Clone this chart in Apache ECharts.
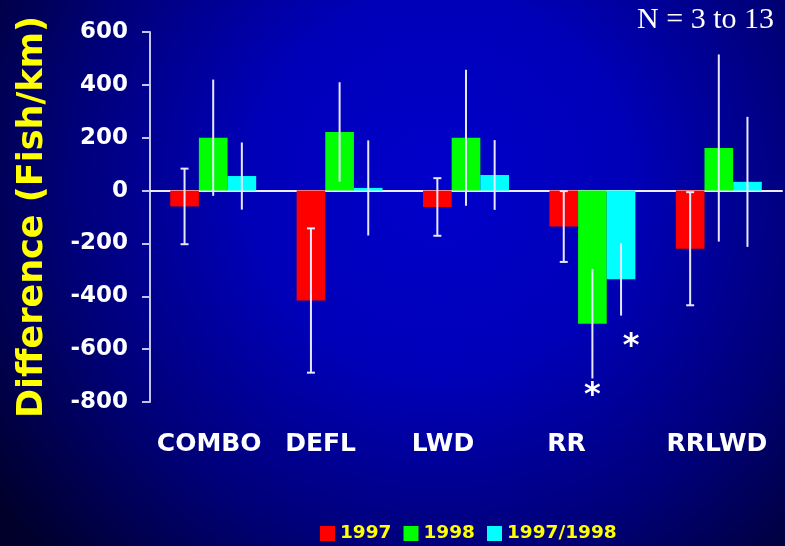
<!DOCTYPE html>
<html>
<head>
<meta charset="utf-8">
<script src="https://cdn.jsdelivr.net/npm/echarts@6/dist/echarts.min.js"></script>
<style>
  html, body { margin: 0; padding: 0; }
  #chart { width: 785px; height: 546px; }
</style>
</head>
<body>
<div id="chart"></div>
<script>
const categories = ["COMBO", "DEFL", "LWD", "RR", "RRLWD"];
const yTicks = [-800, -600, -400, -200, 0, 200, 400, 600];

// mean differences (Fish/km)
const mean1997 = [-60, -416, -62, -136, -220];
const mean1998 = [200, 222, 200, -504, 161];
const mean9798 = [55, 10, 59, -336, 33];

// half width of the error bars
const err1997 = [143, 273, 109, 134, 214];
const err1998 = [220, 188, 257, 207, 354];
const err9798 = [127, 180, 132, 137, 246];

// significance marks (value where the * sits)
const star1997 = [null, null, null, null, null];
const star1998 = [null, null, null, -775, null];
const star9798 = [null, null, null, -590, null];

const CAT_GAP = 0.32;
const FONT = "DejaVu Sans";

// label nudges so the names sit like the original slide
const labelShift = { COMBO: 4, DEFL: 19, LWD: 23, RR: 26, RRLWD: 2 };

function errorSeries(name, means, errs, stars, slot, caps, starDx) {
  return {
    type: "custom",
    name: name,
    z: 5,
    silent: true,
    data: means.map(function(m, i) {
      return [i, m - errs[i], m + errs[i], stars[i] == null ? "-" : stars[i]];
    }),
    renderItem: function(params, api) {
      const band = api.size([1, 0])[0];
      const barW = (band * (1 - CAT_GAP)) / 3;
      const idx = api.value(0);
      const x = api.coord([idx, 0])[0] + (slot - 1) * barW;
      const lo = api.coord([idx, api.value(1)])[1];
      const hi = api.coord([idx, api.value(2)])[1];
      const style = { stroke: "#e6e6ff", lineWidth: 2 };
      const kids = [
        { type: "line", shape: { x1: x, y1: lo, x2: x, y2: hi }, style: style }
      ];
      if (caps) {
        kids.push({ type: "line", shape: { x1: x - 4, y1: lo, x2: x + 4, y2: lo }, style: style });
        kids.push({ type: "line", shape: { x1: x - 4, y1: hi, x2: x + 4, y2: hi }, style: style });
      }
      const s = api.value(3);
      if (!isNaN(s)) {
        const sy = api.coord([idx, s])[1];
        kids.push({
          type: "text",
          x: x + (starDx || 0),
          y: sy,
          style: {
            text: "*",
            fill: "#ffffff",
            font: "bold 32px " + FONT,
            align: "center",
            verticalAlign: "middle"
          }
        });
      }
      return { type: "group", children: kids };
    }
  };
}

const option = {
  animation: false,
  backgroundColor: {
    type: "radial",
    x: 0.56,
    y: 0.34,
    r: 1.0,
    colorStops: [
      { offset: 0, color: "#0000cc" },
      { offset: 0.35, color: "#0000b8" },
      { offset: 0.68, color: "#000078" },
      { offset: 1, color: "#00002a" }
    ]
  },
  title: {
    text: "N = 3 to 13",
    right: 6,
    top: 0,
    textStyle: {
      color: "#ffffff",
      fontFamily: "Liberation Serif",
      fontWeight: "normal",
      fontSize: 30
    }
  },
  legend: {
    data: ["1997", "1998", "1997/1998"],
    left: 315,
    top: 519,
    icon: "rect",
    itemWidth: 15,
    itemHeight: 15,
    itemGap: 12,
    textStyle: {
      color: "#ffff00",
      fontFamily: FONT,
      fontWeight: "bold",
      fontSize: 18.5
    }
  },
  grid: { left: 150, right: 3, top: 32, bottom: 144, outerBoundsMode: "none" },
  xAxis: [
    {
      type: "category",
      data: categories,
      axisLine: { onZero: true, lineStyle: { color: "#ececff", width: 2 } },
      axisTick: { length: 8, lineStyle: { color: "#ececff", width: 2 } },
      axisLabel: { show: false }
    },
    {
      type: "category",
      data: categories,
      position: "bottom",
      axisLine: { show: false, onZero: false },
      axisTick: { show: false },
      axisLabel: {
        margin: 30,
        interval: 0,
        hideOverlap: false,
        formatter: function(v) {
          return "{" + v + "|" + v + "}";
        },
        rich: Object.fromEntries(
          categories.map(function(c) {
            return [c, {
              color: "#ffffff",
              fontFamily: FONT,
              fontWeight: "bold",
              fontSize: 25,
              padding: [0, labelShift[c] * 2, 0, 0]
            }];
          })
        )
      }
    }
  ],
  yAxis: {
    type: "value",
    min: yTicks[0],
    max: yTicks[yTicks.length - 1],
    interval: 200,
    name: "Difference (Fish/km)",
    nameLocation: "middle",
    nameGap: 100,
    nameTextStyle: {
      color: "#ffff00",
      fontFamily: FONT,
      fontWeight: "bold",
      fontSize: 35
    },
    axisLine: { show: true, lineStyle: { color: "#c4c4f0", width: 2 } },
    axisTick: { show: true, length: 8, lineStyle: { color: "#c4c4f0", width: 2 } },
    splitLine: { show: false },
    axisLabel: {
      margin: 22,
      color: "#ffffff",
      fontFamily: FONT,
      fontWeight: "bold",
      fontSize: 23
    }
  },
  series: [
    { name: "1997", type: "bar", data: mean1997, barGap: "0%", barCategoryGap: "32%", itemStyle: { color: "#ff0000" } },
    { name: "1998", type: "bar", data: mean1998, barGap: "0%", barCategoryGap: "32%", itemStyle: { color: "#00ff00" } },
    { name: "1997/1998", type: "bar", data: mean9798, barGap: "0%", barCategoryGap: "32%", itemStyle: { color: "#00ffff" } },
    errorSeries("e1997", mean1997, err1997, star1997, 0, true, 0),
    errorSeries("e1998", mean1998, err1998, star1998, 1, false, 0),
    errorSeries("e9798", mean9798, err9798, star9798, 2, false, 10)
  ]
};

const chart = echarts.init(document.getElementById("chart"));
chart.setOption(option);
</script>
</body>
</html>
